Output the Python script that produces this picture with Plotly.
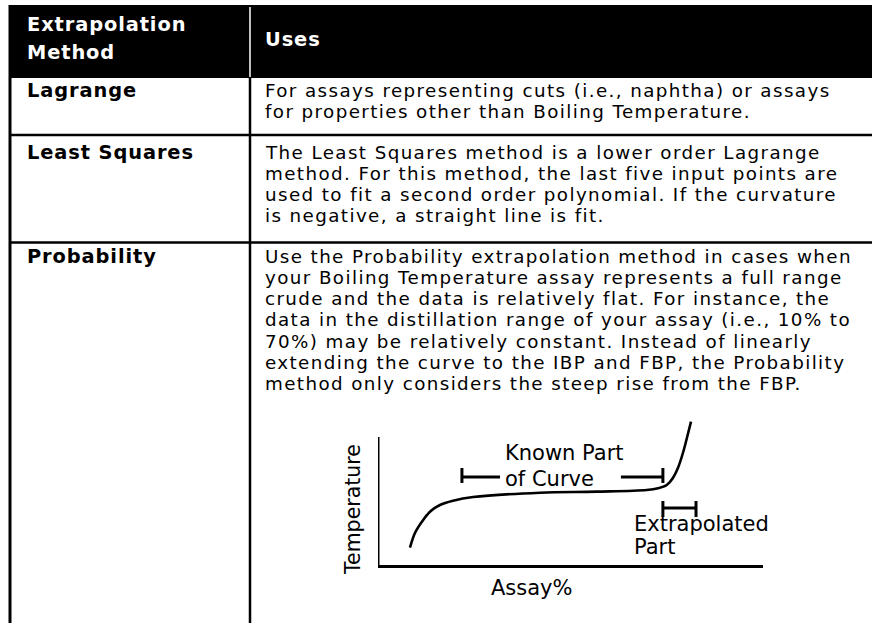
import plotly.graph_objects as go

# ---------------- table content ----------------
header_method_lines = ["Extrapolation", "Method"]
header_uses = "Uses"
methods = ["Lagrange", "Least Squares", "Probability"]
uses_lines = [
    ["For assays representing cuts (i.e., naphtha) or assays",
     "for properties other than Boiling Temperature."],
    ["The Least Squares method is a lower order Lagrange",
     "method. For this method, the last five input points are",
     "used to fit a second order polynomial. If the curvature",
     "is negative, a straight line is fit."],
    ["Use the Probability extrapolation method in cases when",
     "your Boiling Temperature assay represents a full range",
     "crude and the data is relatively flat. For instance, the",
     "data in the distillation range of your assay (i.e., 10% to",
     "70%) may be relatively constant. Instead of linearly",
     "extending the curve to the IBP and FBP, the Probability",
     "method only considers the steep rise from the FBP."],
]

# ---------------- inset curve (Assay% vs Temperature, arbitrary units) ----------------
x_title = "Assay%"
y_title = "Temperature"
assay_pct = [8.3, 9.6, 11.4, 13.5, 16.1, 19.5, 24.7, 42.1, 56.8, 69.8, 72.7, 75.0, 76.6, 77.9, 79.2, 80.3, 81.3]
temperature = [13.5, 25.0, 33.8, 41.6, 46.9, 50.2, 53.1, 56.5, 57.3, 58.6, 59.9, 62.5, 68.0, 75.8, 87.5, 100.0, 112.0]

known_left = [21.8, 31.7]
known_right = [63.1, 74.0]
known_level = 68.75
known_tick = [64.1, 75.8]
extrap_range = [74.0, 82.6]
extrap_level = 44.5
extrap_tick = [37.5, 50.0]

W, H = 872, 623
FONT = "DejaVu Sans"
BODY = 18.3
BODY_LS = 1.4
BOLD = 19.4
BOLD_LS = 0.9
CHART = 21


def spaced(t, ls, bold=False):
    inner = "<b>%s</b>" % t if bold else t
    return '<span style="letter-spacing:%.2fpx">%s</span>' % (ls, inner)


fig = go.Figure()

# ---- layout geometry (pixels) ----
left_x, div_x, right_x = 10, 250, 872
head_top, head_bot = 5, 78
seps = [135, 242.5]
text_x_left, text_x_body = 25, 263
row_first_y = [90, 152, 256]
line_gap = 21.3

shapes = []
shapes.append(dict(type="rect", xref="x", yref="y", x0=9, x1=right_x + 2, y0=head_top, y1=head_bot,
                   fillcolor="black", line=dict(width=0), layer="below"))
shapes.append(dict(type="line", xref="x", yref="y", x0=div_x, x1=div_x, y0=head_top + 2, y1=head_bot - 1,
                   line=dict(color="white", width=1.5)))
shapes.append(dict(type="line", xref="x", yref="y", x0=left_x, x1=left_x, y0=head_top, y1=H + 5,
                   line=dict(color="black", width=3)))
shapes.append(dict(type="line", xref="x", yref="y", x0=div_x, x1=div_x, y0=head_bot, y1=H + 5,
                   line=dict(color="black", width=2.5)))
for s in seps:
    shapes.append(dict(type="line", xref="x", yref="y", x0=9, x1=right_x + 2, y0=s, y1=s,
                       line=dict(color="black", width=2.7)))

ann = []
for i, t in enumerate(header_method_lines):
    ann.append(dict(x=text_x_left, y=[24.5, 52.5][i], xref="x", yref="y", text=spaced(t, BOLD_LS, True),
                    showarrow=False, xanchor="left", yanchor="middle",
                    font=dict(family=FONT, size=BOLD, color="white")))
ann.append(dict(x=text_x_body, y=39.5, xref="x", yref="y", text=spaced(header_uses, BOLD_LS, True),
                showarrow=False, xanchor="left", yanchor="middle",
                font=dict(family=FONT, size=BOLD, color="white")))
for r, m in enumerate(methods):
    ann.append(dict(x=text_x_left, y=row_first_y[r], xref="x", yref="y", text=spaced(m, BOLD_LS, True),
                    showarrow=False, xanchor="left", yanchor="middle",
                    font=dict(family=FONT, size=BOLD, color="black")))
    for k, line in enumerate(uses_lines[r]):
        ann.append(dict(x=text_x_body, y=row_first_y[r] + k * line_gap, xref="x", yref="y",
                        text=spaced(line, BODY_LS),
                        showarrow=False, xanchor="left", yanchor="middle",
                        font=dict(family=FONT, size=BODY, color="black")))

# invisible trace for pixel axes
fig.add_trace(go.Scatter(x=[0, W], y=[0, H], mode="markers", marker=dict(opacity=0),
                         hoverinfo="skip", showlegend=False, xaxis="x", yaxis="y"))

# ---- inset chart ----
ax_x0, ax_x1 = 378, 763
ax_y0 = 565           # pixel of temperature 0
ax_ytop = 437         # pixel of temperature 100
px_per_unit = (ax_y0 - ax_ytop) / 100.0
dom_top_px = 415
y_max = (ax_y0 - dom_top_px) / px_per_unit

fig.add_trace(go.Scatter(x=assay_pct, y=temperature, mode="lines",
                         line=dict(color="black", width=2.6, shape="spline"),
                         hoverinfo="skip", showlegend=False, xaxis="x2", yaxis="y2"))
# brackets
bx = [known_left[0], known_left[0], None, known_left[0], known_left[1], None,
      known_right[0], known_right[1], None, known_right[1], known_right[1], None,
      extrap_range[0], extrap_range[0], None, extrap_range[0], extrap_range[1], None,
      extrap_range[1], extrap_range[1]]
by = [known_tick[0], known_tick[1], None, known_level, known_level, None,
      known_level, known_level, None, known_tick[0], known_tick[1], None,
      extrap_tick[0], extrap_tick[1], None, extrap_level, extrap_level, None,
      extrap_tick[0], extrap_tick[1]]
fig.add_trace(go.Scatter(x=bx, y=by, mode="lines", line=dict(color="black", width=3),
                         hoverinfo="skip", showlegend=False, xaxis="x2", yaxis="y2"))

shapes.append(dict(type="line", xref="x2", yref="y2", x0=0, x1=0, y0=0, y1=100,
                   line=dict(color="black", width=3)))

for txt, x, y in [("Known Part", 32.5, 87.5), ("of Curve", 32.5, 67.2),
                  ("Extrapolated", 66.0, 32.0), ("Part", 66.0, 14.1)]:
    ann.append(dict(x=x, y=y, xref="x2", yref="y2", text=txt, showarrow=False,
                    xanchor="left", yanchor="middle", font=dict(family=FONT, size=CHART, color="black")))
# axis titles (positioned in page pixel axes, outside the inset range)
ann.append(dict(x=532, y=588, xref="x", yref="y", text=x_title, showarrow=False,
                xanchor="center", yanchor="middle", font=dict(family=FONT, size=CHART, color="black")))
ann.append(dict(x=353, y=510, xref="x", yref="y", text=y_title, showarrow=False, textangle=-90,
                xanchor="center", yanchor="middle", font=dict(family=FONT, size=CHART - 0.5, color="black")))

fig.update_layout(
    width=W, height=H, margin=dict(l=0, r=0, t=0, b=0),
    paper_bgcolor="white", plot_bgcolor="rgba(0,0,0,0)",
    xaxis=dict(range=[0, W], domain=[0, 1], visible=False, fixedrange=True),
    yaxis=dict(range=[H, 0], domain=[0, 1], visible=False, fixedrange=True),
    xaxis2=dict(range=[0, 100], domain=[ax_x0 / W, ax_x1 / W], anchor="y2",
                showline=True, linecolor="black", linewidth=3, showgrid=False, zeroline=False,
                showticklabels=False, ticks=""),
    yaxis2=dict(range=[0, y_max], domain=[(H - ax_y0) / H, (H - dom_top_px) / H], anchor="x2",
                showline=False, showgrid=False, zeroline=False, showticklabels=False, ticks=""),
    shapes=shapes, annotations=ann, showlegend=False,
)

fig.write_html("out.html", config={"displayModeBar": False},
               post_script="document.body.style.margin='0';document.body.style.overflow='hidden';")
